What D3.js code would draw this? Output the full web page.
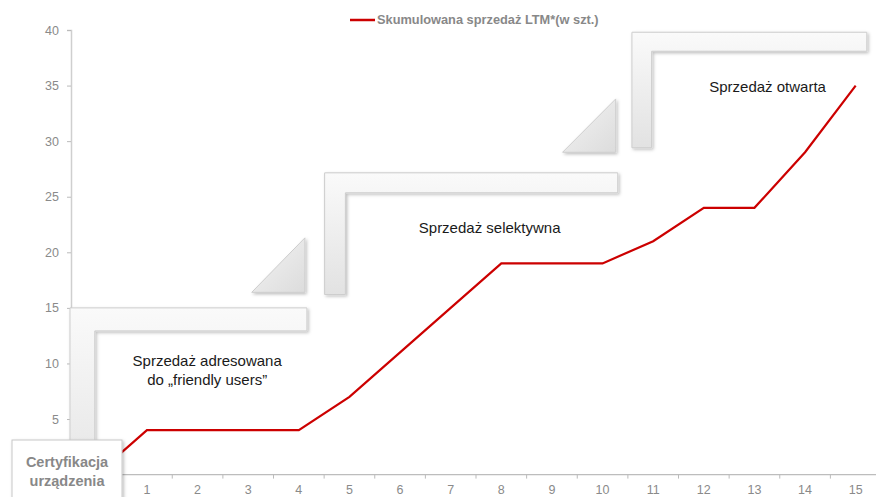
<!DOCTYPE html>
<html>
<head>
<meta charset="utf-8">
<script src="https://cdn.jsdelivr.net/npm/d3@7"></script>
<style>
  body { margin: 0; background: #fff; }
  svg { display: block; font-family: "Liberation Sans", Arial, sans-serif; }
</style>
</head>
<body>
<script>
// data
var months = [0, 1, 2, 3, 4, 5, 6, 7, 8, 9, 10, 11, 12, 13, 14, 15];
var sales = [0, 4, 4, 4, 4, 7, 11, 15, 19, 19, 19, 21, 24, 24, 29, 35];
var yTicks = [5, 10, 15, 20, 25, 30, 35, 40];
var seriesName = "Skumulowana sprzedaż LTM*(w szt.)";

// stage brackets (in data units), label lines
var stages = [
  { x0: -0.52, x1: 4.16, inner: -0.03, yTop: 15.0, yBot: -3, th: 23, label: ["Sprzedaż adresowana", "do „friendly users”"], lx: 2.19, ly: 9.75 },
  { x0: 4.51, x1: 10.3, inner: 4.92, yTop: 27.15, yBot: 16.2, th: 20, label: ["Sprzedaż selektywna"], lx: 7.77, ly: 21.75 },
  { x0: 10.58, x1: 15.22, inner: 10.97, yTop: 39.8, yBot: 29.4, th: 19, label: ["Sprzedaż otwarta"], lx: 13.26, ly: 34.45 }
];
var arrows = [
  { x0: 3.07, x1: 4.12, y0: 16.4, y1: 21.3 },
  { x0: 9.21, x1: 10.26, y0: 29.0, y1: 33.8 }
];

var w = 876, h = 497;
var x = d3.scaleLinear().domain([-0.5, 15.5]).range([71, 881]);
var y = d3.scaleLinear().domain([0, 40]).range([474.6, 30]);

var svg = d3.select("body").append("svg")
  .attr("width", w)
  .attr("height", h);

var defs = svg.append("defs");
var sh = defs.append("filter").attr("id", "shadow")
  .attr("x", "-10%").attr("y", "-10%").attr("width", "130%").attr("height", "130%");
sh.append("feDropShadow").attr("dx", 1.5).attr("dy", 1.5).attr("stdDeviation", 1.5)
  .attr("flood-color", "#000").attr("flood-opacity", 0.25);

var g1 = defs.append("linearGradient").attr("id", "gradL")
  .attr("x1", "0").attr("y1", "0").attr("x2", "0").attr("y2", "1");
g1.append("stop").attr("offset", "0").attr("stop-color", "#fafafa");
g1.append("stop").attr("offset", "1").attr("stop-color", "#e2e2e2");

var g2 = defs.append("linearGradient").attr("id", "gradT")
  .attr("x1", "0").attr("y1", "0").attr("x2", "1").attr("y2", "1");
g2.append("stop").attr("offset", "0").attr("stop-color", "#f4f4f4");
g2.append("stop").attr("offset", "1").attr("stop-color", "#dcdcdc");

// axes
var yAxis = d3.axisLeft(y).tickValues(yTicks).tickSize(4).tickPadding(8);
var ya = svg.append("g").attr("transform", "translate(71,0)").call(yAxis);
ya.select(".domain").attr("stroke", "#cfcfcf").attr("stroke-width", 1.5);
ya.selectAll(".tick line").attr("stroke", "#bbb");
ya.selectAll("text").attr("fill", "#8a8a8a").attr("font-size", 12.5)
  .attr("font-family", "Liberation Sans, Arial, sans-serif");

var xa = svg.append("g").attr("transform", "translate(0," + y(0) + ")");
xa.append("line").attr("x1", 71).attr("x2", w).attr("stroke", "#bdbdbd").attr("stroke-width", 1.2);
xa.selectAll(".tk").data(months).enter().append("line")
  .attr("x1", function(d){ return x(d + 0.5); })
  .attr("x2", function(d){ return x(d + 0.5); })
  .attr("y1", 0).attr("y2", 4).attr("stroke", "#bbb");
xa.selectAll(".lb").data(months.slice(1)).enter().append("text")
  .attr("x", function(d){ return x(d); })
  .attr("y", 19)
  .attr("text-anchor", "middle")
  .attr("fill", "#8a8a8a").attr("font-size", 12.5)
  .text(function(d){ return d; });

// brackets
var br = svg.append("g");
stages.forEach(function(s){
  var L = x(s.x0), R = x(s.x1), T = y(s.yTop), B = y(s.yBot), I = x(s.inner);
  var p = "M" + L + "," + T + "H" + R + "V" + (T + s.th) + "H" + I + "V" + B + "H" + L + "Z";
  br.append("path").attr("d", p)
    .attr("fill", "url(#gradL)")
    .attr("stroke", "#cdcdcd").attr("stroke-width", 1)
    .attr("filter", "url(#shadow)");
  s.label.forEach(function(t, i){
    br.append("text")
      .attr("x", x(s.lx))
      .attr("y", y(s.ly) + i * 19)
      .attr("text-anchor", "middle")
      .attr("fill", "#1a1a1a").attr("font-size", 15)
      .text(t);
  });
});
arrows.forEach(function(a){
  var p = "M" + x(a.x0) + "," + y(a.y0) + "L" + x(a.x1) + "," + y(a.y0) + "L" + x(a.x1) + "," + y(a.y1) + "Z";
  br.append("path").attr("d", p)
    .attr("fill", "url(#gradT)")
    .attr("stroke", "#cdcdcd").attr("stroke-width", 1)
    .attr("filter", "url(#shadow)");
});

// line
var line = d3.line()
  .x(function(d, i){ return x(months[i]); })
  .y(function(d){ return y(d); });
svg.append("path").datum(sales)
  .attr("d", line)
  .attr("fill", "none")
  .attr("stroke", "#cc0000")
  .attr("stroke-width", 2.2);

// certification box
var cb = svg.append("g");
cb.append("rect").attr("x", 12).attr("y", 440).attr("width", 110).attr("height", 70)
  .attr("fill", "#fff").attr("stroke", "#c8c8c8").attr("filter", "url(#shadow)");
cb.append("text").attr("x", 67).attr("y", 467).attr("text-anchor", "middle")
  .attr("fill", "#888").attr("font-size", 14.5).attr("font-weight", "bold").text("Certyfikacja");
cb.append("text").attr("x", 67).attr("y", 486).attr("text-anchor", "middle")
  .attr("fill", "#888").attr("font-size", 14.5).attr("font-weight", "bold").text("urządzenia");

// legend
var lg = svg.append("g");
lg.append("line").attr("x1", 350).attr("x2", 375).attr("y1", 20).attr("y2", 20)
  .attr("stroke", "#cc0000").attr("stroke-width", 2.5);
lg.append("text").attr("x", 377).attr("y", 24)
  .attr("fill", "#888").attr("font-size", 12.8).attr("font-weight", "bold")
  .text(seriesName);
</script>
</body>
</html>
